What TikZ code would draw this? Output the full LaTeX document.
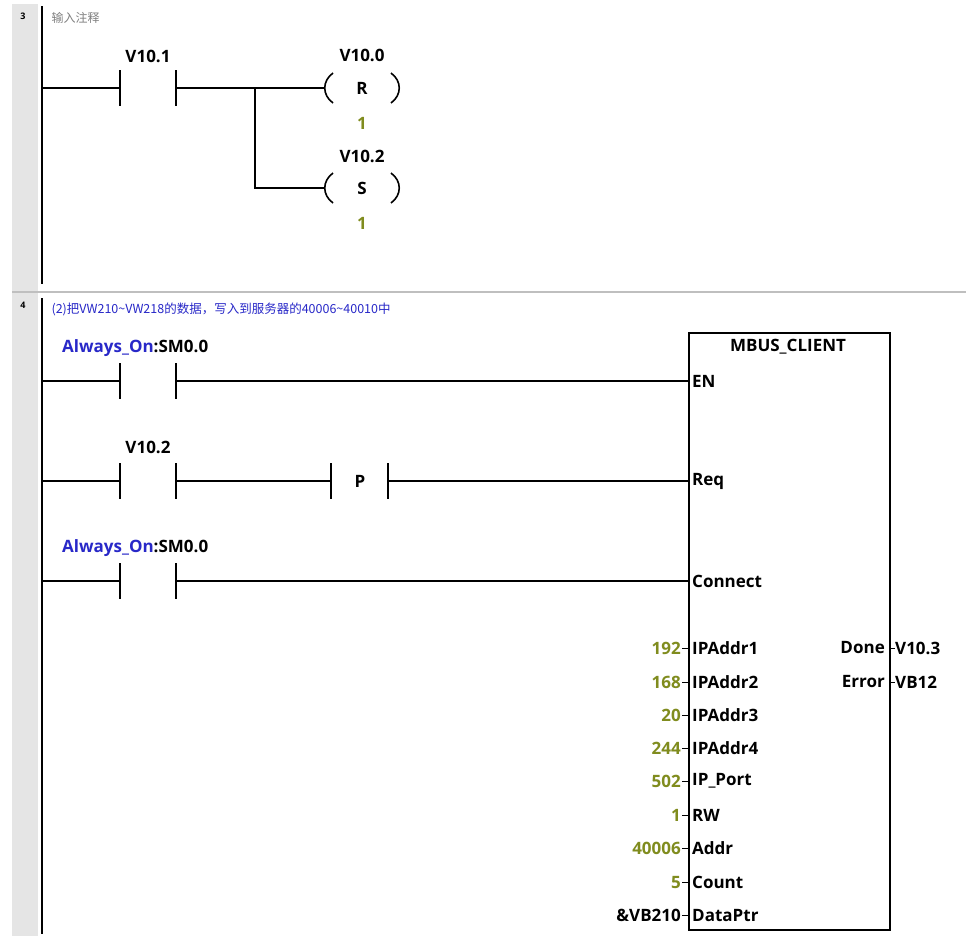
\documentclass[tikz,border=0pt]{standalone}
\usepackage{fontspec}
\setmainfont{Open Sans}
\newfontfamily\cjk{Noto Sans CJK SC}
\definecolor{olive}{RGB}{128,140,30}
\definecolor{lblue}{RGB}{40,40,200}
\begin{document}
\begin{tikzpicture}[x=1pt,y=-1pt,
  wire/.style={line width=1.6pt},
  lbl/.style={font=\bfseries\fontsize{17}{19}\selectfont,inner sep=0pt},
  val/.style={font=\bfseries\fontsize{17}{19}\selectfont,text=olive,inner sep=0pt,anchor=east},
  pin/.style={font=\bfseries\fontsize{17}{19}\selectfont,inner sep=0pt,anchor=west}]
\useasboundingbox (0,0) rectangle (966,951);
\fill[white] (0,0) rectangle (966,951);
\fill[gray!20] (12,4) rectangle (38,936);
\draw[gray!50,line width=1.5pt] (12,292) -- (966,292);
\node[font=\bfseries\small] (n3) at (23,16) {3};
\node[font=\bfseries\small] (n4) at (23,305) {4};
% rails
\draw[line width=2pt] (42,6) -- (42,284);
\draw[line width=2pt] (42,298) -- (42,934);
\node[anchor=west,text=gray,font=\cjk\fontsize{12}{14}\selectfont] (c3) at (48,18) {输入注释};
% network 3
\coordinate (r3) at (42,88);
\coordinate (br) at (255,88);
\coordinate (br2) at (255,188);
\draw[wire] (r3) -- (120,88) (120,70) -- (120,106) (176,70) -- (176,106) (176,88) -- (br) -- (324,88);
\draw[wire] (br) -- (br2) -- (324,188);
\node[lbl] (v101) at (148,56) {V10.1};
\node[lbl] (v100) at (362,55) {V10.0};
\node[lbl] (cr) at (362,88) {R};
\node[lbl,text=olive] (o1) at (362,123) {1};
\node[lbl] (v102) at (362,156) {V10.2};
\node[lbl] (cs) at (362,188) {S};
\node[lbl,text=olive] (o2) at (362,223) {1};
\foreach \y in {88,188}{
 \draw[wire] (333,\y-15) .. controls (322,\y-7) and (322,\y+7) .. (333,\y+15);
 \draw[wire] (391,\y-15) .. controls (402,\y-7) and (402,\y+7) .. (391,\y+15);
}
% network 4
\node[anchor=west,text=lblue,font=\cjk\fontsize{12.5}{14}\selectfont] (c4) at (48,309) {(2)把VW210\textasciitilde VW218的数据，写入到服务器的40006\textasciitilde 40010中};
\node[draw,line width=1.6pt,minimum width=201pt,minimum height=597pt,anchor=north west,inner sep=0pt] (blk) at (688,332) {};
\node[lbl] (title) at (788,347) {MBUS\_CLIENT};
\foreach \y in {381,581}{
 \draw[wire] (42,\y) -- (120,\y) (120,\y-18) -- (120,\y+18) (176,\y-18) -- (176,\y+18) (176,\y) -- (688,\y);
}
\draw[wire] (42,481) -- (120,481) (120,463) -- (120,499) (176,463) -- (176,499) (176,481) -- (331,481)
  (331,463) -- (331,499) (388,463) -- (388,499) (388,481) -- (688,481);
\node[lbl] (pp) at (360,481) {P};
\node[lbl] (v102b) at (148,447) {V10.2};
\node[lbl,anchor=west] (ao1) at (62,348) {\textcolor{lblue}{Always\_On}:SM0.0};
\node[lbl,anchor=west] (ao2) at (62,548) {\textcolor{lblue}{Always\_On}:SM0.0};
\node[pin] (en) at (692,381) {EN};
\node[pin] (req) at (692,481) {Req};
\node[pin] (con) at (692,581) {Connect};
\foreach \y/\v/\p in {648/192/IPAddr1,682/168/IPAddr2,715/20/IPAddr3,748/244/IPAddr4,781/502/IP\_Port,815/1/RW,848/40006/Addr,882/5/Count}{
 \node[val] at (681,\y) {\v};
 \draw[line width=1pt] (682,\y) -- (688,\y);
 \node[pin] at (692,\y) {\p};
}
\node[val,text=black] (dp) at (681,915) {\&VB210};
\draw[line width=1pt] (682,915) -- (688,915);
\node[pin] (dpp) at (692,915) {DataPtr};
\node[lbl,anchor=east] (done) at (885,648) {Done};
\node[lbl,anchor=east] (err) at (885,682) {Error};
\draw[line width=1pt] (889,648) -- (895,648) (889,682) -- (895,682);
\node[pin] (v103) at (895,648) {V10.3};
\node[pin] (vb12) at (895,682) {VB12};
\end{tikzpicture}
\end{document}
